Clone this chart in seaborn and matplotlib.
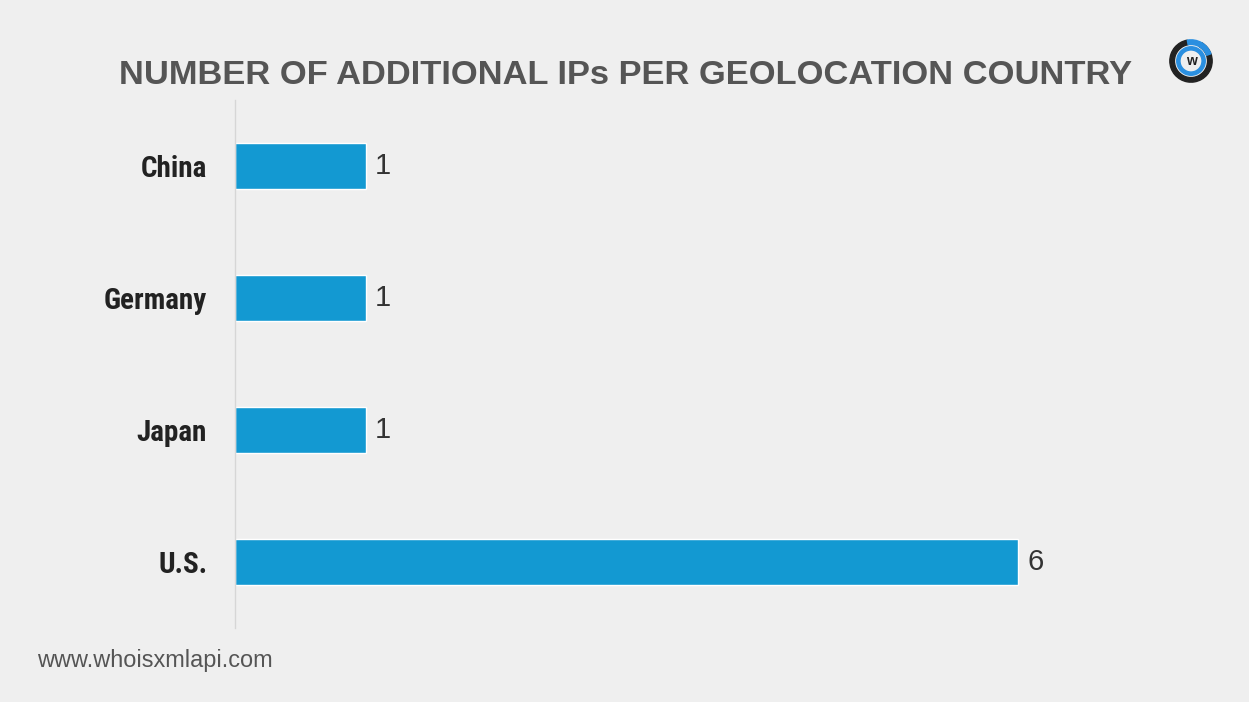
import matplotlib
matplotlib.use("Agg")
import matplotlib.pyplot as plt
import seaborn as sns
import pandas as pd
from matplotlib import font_manager
from matplotlib.patches import Wedge

countries = ["China", "Germany", "Japan", "U.S."]
values = [1, 1, 1, 6]
title_text = "NUMBER OF ADDITIONAL IPs PER GEOLOCATION COUNTRY"
footer_text = "www.whoisxmlapi.com"

sns.set_theme(style="white")
names = {f.name for f in font_manager.fontManager.ttflist}
narrow = None
for cand in ["Roboto Condensed", "Liberation Sans Narrow", "Open Sans Condensed",
             "Noto Sans Condensed", "DejaVu Sans Condensed"]:
    if cand in names:
        narrow = cand
        break
plt.rcParams['font.family'] = ['Liberation Sans', 'DejaVu Sans']

if narrow is not None:
    lab_family, lab_size = narrow, 21
else:
    lab_family, lab_size = "Liberation Sans", 18

bg = "#efefef"
bar_color = "#1399d2"

df = pd.DataFrame({"country": countries, "value": values})

fig = plt.figure(figsize=(12.49, 7.02), dpi=100, facecolor=bg)
ax = fig.add_axes([235/1249, 74/702, 979/1249, 528/702])
ax.set_facecolor(bg)

sns.barplot(data=df, x="value", y="country", orient="h", color=bar_color,
            width=0.35, ax=ax, saturation=1)

ax.set_xlim(0, 7.5)
ax.set_ylim(3.5, -0.5)
ax.set_xlabel("")
ax.set_ylabel("")
ax.set_xticks([])
for s in ["top", "right", "bottom"]:
    ax.spines[s].set_visible(False)
ax.spines["left"].set_color("#d6d6d6")
ax.spines["left"].set_linewidth(1)
ax.tick_params(axis="y", length=0, pad=20)
for lbl in ax.get_yticklabels():
    lbl.set_fontfamily(lab_family)
    lbl.set_fontweight("bold")
    lbl.set_fontsize(lab_size)
    lbl.set_color("#222222")

for i, v in enumerate(values):
    ax.text(v + 0.07, i, str(v), va="center", ha="left", fontsize=21,
            color="#333333", family="Liberation Sans")

fig.text(626/1249, 1 - 75/702, title_text, ha="center", va="center",
         fontsize=24.8, fontweight="bold", color="#555555", family="Liberation Sans")

fig.text(37/1249, 1 - 660/702, footer_text, ha="left", va="center",
         fontsize=16.9, color="#555555", family="Liberation Sans")

# simple logo
lax = fig.add_axes([1168/1249, 1 - 84/702, 46/1249, 46/702])
lax.set_xlim(-1, 1); lax.set_ylim(-1, 1); lax.set_aspect("equal"); lax.axis("off")
lax.add_patch(Wedge((0, 0), 0.92, 100, 420, width=0.2, color="#222222"))
lax.add_patch(Wedge((0, 0), 0.62, 0, 360, width=0.14, color="#2a8fe0"))
lax.add_patch(Wedge((0, 0), 0.92, 20, 100, width=0.2, color="#2a8fe0"))
lax.text(0, -0.02, "w", ha="center", va="center", fontsize=10, fontweight="bold", color="#222222")

fig.savefig("out.png", dpi=100, facecolor=bg)
